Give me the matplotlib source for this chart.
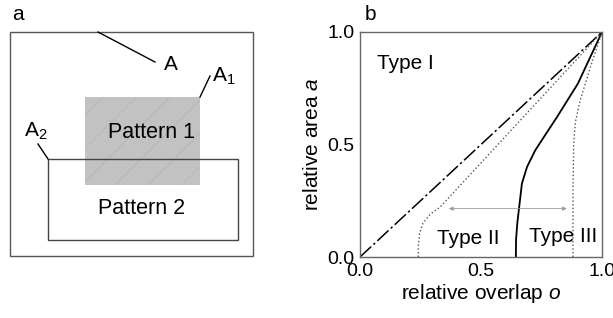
import matplotlib.pyplot as plt
from matplotlib.patches import Rectangle

plt.rcParams["font.family"] = ["Liberation Sans", "DejaVu Sans"]
plt.rcParams["mathtext.fontset"] = "custom"
plt.rcParams["mathtext.it"] = "Liberation Sans:italic"
plt.rcParams["mathtext.rm"] = "Liberation Sans"
plt.rcParams["hatch.linewidth"] = 0.6

# panel b curves (relative overlap o, relative area a)
diag_o = [0.0, 1.0]
diag_a = [0.0, 1.0]
type2_o = [0.241, 0.241, 0.246, 0.26, 0.29, 0.331, 1.0]
type2_a = [0.0, 0.05, 0.104, 0.15, 0.19, 0.222, 1.0]
mid_o = [0.644, 0.645, 0.65, 0.669, 0.69, 0.724, 0.77, 0.814, 0.9, 1.0]
mid_a = [0.0, 0.08, 0.15, 0.326, 0.4, 0.474, 0.55, 0.622, 0.77, 1.0]
type3_o = [0.88, 0.88, 0.883, 0.89, 0.91, 0.952, 1.0]
type3_a = [0.0, 0.3, 0.504, 0.6, 0.696, 0.844, 1.0]
ticks = [0.0, 0.5, 1.0]
tick_labels = ["0.0", "0.5", "1.0"]

W, H = 613, 318
fig = plt.figure(figsize=(W / 100, H / 100), dpi=100)

# ---- panel a: schematic in pixel coordinates
ax_a = fig.add_axes([0, 0, 1, 1])
ax_a.set_xlim(0, W)
ax_a.set_ylim(H, 0)
ax_a.axis("off")

ax_a.add_patch(Rectangle((10, 32), 243, 224, fill=False, ec="#555555", lw=1.0))
ax_a.add_patch(Rectangle((85, 97), 115, 88, fc="#c2c2c2", ec="none"))
ax_a.add_patch(Rectangle((85, 97), 115, 88, fill=False, ec="#b5b5b5", lw=0, hatch="/"))
ax_a.add_patch(Rectangle((48, 159), 190, 81, fill=False, ec="#444444", lw=1.0))

ax_a.plot([98, 155], [32, 62], color="black", lw=1.0)
ax_a.plot([200, 210], [97, 76], color="black", lw=1.0)
ax_a.plot([48, 38], [159, 144], color="black", lw=1.0)

fs = 15
ax_a.text(164, 64, "A", fontsize=fs, va="center")
ax_a.text(212, 76, "A$_1$", fontsize=fs, va="center")
ax_a.text(24, 131, "A$_2$", fontsize=fs, va="center")
ax_a.text(152, 132, "Pattern 1", fontsize=15.5, ha="center", va="center")
ax_a.text(142, 208, "Pattern 2", fontsize=15.5, ha="center", va="center")
ax_a.text(12, 14, "a", fontsize=fs, va="center")
ax_a.text(365, 14, "b", fontsize=fs, va="center")

# ---- panel b: relative area vs relative overlap
ax = fig.add_axes([360 / W, 1 - 257 / H, 242 / W, 225 / H])
ax.plot(diag_o, diag_a, color="black", lw=1.1, ls=(0, (10, 2, 1.5, 2)))
ax.plot(type2_o, type2_a, color="#555555", lw=1.0, ls=":")
ax.plot(mid_o, mid_a, color="black", lw=1.3)
ax.plot(type3_o, type3_a, color="#555555", lw=1.0, ls=":")
ax.annotate("", xy=(0.356, 0.215), xytext=(0.866, 0.215),
            arrowprops=dict(arrowstyle="<|-|>", color="#999999", lw=0.6,
                            mutation_scale=6))

ax.text(0.07, 0.86, "Type I", fontsize=fs, va="center")
ax.text(0.32, 0.08, "Type II", fontsize=fs, va="center")
ax.text(0.70, 0.09, "Type III", fontsize=fs, va="center")

ax.set_xlim(0, 1)
ax.set_ylim(0, 1)
ax.set_xticks(ticks, tick_labels, fontsize=14)
ax.set_yticks(ticks, tick_labels, fontsize=14)
ax.tick_params(length=0, pad=4)
for s in ax.spines.values():
    s.set_color("#666666")
    s.set_linewidth(1.0)
ax.set_xlabel("relative overlap $o$", fontsize=fs, labelpad=2)
ax.set_ylabel("relative area $a$", fontsize=fs, labelpad=4)

fig.savefig("out.png", dpi=100)
